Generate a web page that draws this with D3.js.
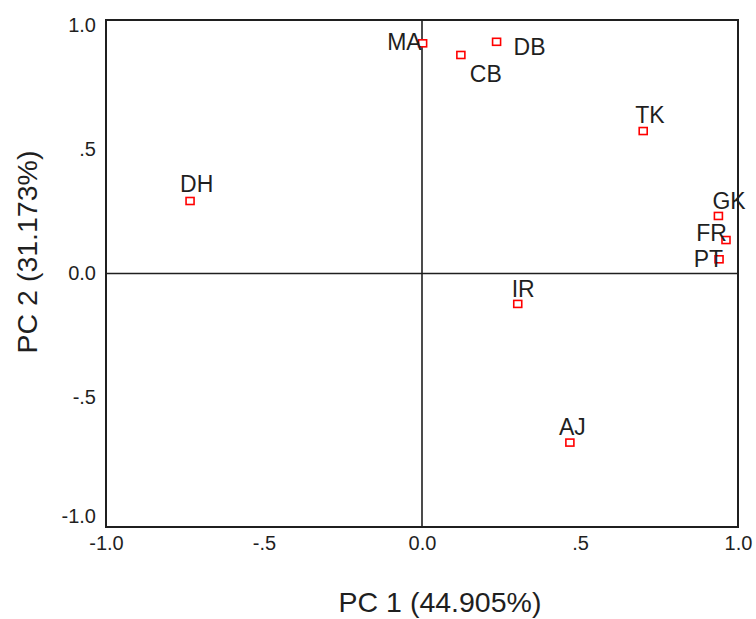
<!DOCTYPE html>
<html>
<head>
<meta charset="utf-8">
<script src="https://cdn.jsdelivr.net/npm/d3@7"></script>
<style>
  html, body { margin: 0; padding: 0; background: #fff; }
  svg { display: block; font-family: "Liberation Sans", Arial, sans-serif; }
</style>
</head>
<body>
<svg id="chart"></svg>
<script>
// PCA score plot: PC 1 vs PC 2
const cases = ["DH", "MA", "CB", "DB", "TK", "GK", "FR", "PT", "IR", "AJ"];
const pc1 = [-0.734, 0.002, 0.123, 0.236, 0.700, 0.938, 0.962, 0.940, 0.303, 0.468];
const pc2 = [0.286, 0.908, 0.862, 0.914, 0.562, 0.227, 0.132, 0.056, -0.120, -0.667];

const tickValues = [-1, -0.5, 0, 0.5, 1];
const tickLabels = ["-1.0", "-.5", "0.0", ".5", "1.0"];

const xTitle = "PC 1 (44.905%)";
const yTitle = "PC 2 (31.173%)";

(() => {
  const width = 756, height = 619;
  const left = 106, right = 738, top = 20, bottom = 527;

  // where each case label sits relative to its marker
  const LABEL_POS = {
    DH: ["start", -10, -9], MA: ["end", -1, 7],  CB: ["start", 9, 27],
    DB: ["start", 17, 13],  TK: ["start", -8, -8], GK: ["start", -6, -7],
    FR: ["end", 1, 1],      PT: ["end", 4, 8],   IR: ["start", -6, -7],
    AJ: ["start", -11, -8]
  };

  const ink = "#1f1f1f";
  const FONT = "Liberation Sans, Arial, sans-serif";

  const svg = d3.select("#chart").attr("width", width).attr("height", height);

  const x = d3.scaleLinear().domain([-1, 1]).range([left, right]);
  const y = d3.scaleLinear().domain([-1, 1]).range([bottom, top]);

  const fmt = d => tickLabels[tickValues.indexOf(d)];

  // tick labels (no tick marks, frame drawn separately)
  svg.append("g")
    .attr("transform", `translate(0,${bottom})`)
    .call(d3.axisBottom(x).tickValues(tickValues).tickFormat(fmt).tickSize(0).tickPadding(9))
    .call(g => g.select(".domain").remove())
    .call(g => g.selectAll("text").attr("font-size", 20).attr("fill", ink).attr("font-family", FONT));

  // y labels sit a little toward the centre; bottom one kept inside the frame
  svg.append("g")
    .attr("transform", `translate(${left},0)`)
    .call(d3.axisLeft(y).tickValues(tickValues).tickFormat(fmt).tickSize(0).tickPadding(10))
    .call(g => g.select(".domain").remove())
    .call(g => g.selectAll(".tick")
      .attr("transform", d => `translate(0,${Math.min(y(d) + 6 * d, bottom - 10)})`))
    .call(g => g.selectAll("text").attr("font-size", 20).attr("fill", ink).attr("font-family", FONT));

  // reference lines through the origin
  svg.append("line")
    .attr("x1", x(0)).attr("x2", x(0)).attr("y1", top).attr("y2", bottom)
    .attr("stroke", ink).attr("stroke-width", 1.6);
  svg.append("line")
    .attr("x1", left).attr("x2", right).attr("y1", y(0)).attr("y2", y(0))
    .attr("stroke", ink).attr("stroke-width", 1.6);

  // frame
  svg.append("rect")
    .attr("x", left).attr("y", top)
    .attr("width", right - left).attr("height", bottom - top)
    .attr("fill", "none").attr("stroke", ink).attr("stroke-width", 2);

  // points
  const data = cases.map((c, i) => ({ name: c, px: pc1[i], py: pc2[i] }));

  svg.append("g").selectAll("rect")
    .data(data)
    .join("rect")
    .attr("x", d => x(d.px) - 4)
    .attr("y", d => y(d.py) - 3.5)
    .attr("width", 8).attr("height", 7)
    .attr("fill", "#fff")
    .attr("stroke", "#ff0000")
    .attr("stroke-width", 1.6);

  svg.append("g").selectAll("text")
    .data(data)
    .join("text")
    .attr("x", d => x(d.px) + LABEL_POS[d.name][1])
    .attr("y", d => y(d.py) + LABEL_POS[d.name][2])
    .attr("text-anchor", d => LABEL_POS[d.name][0])
    .attr("font-size", 23)
    .attr("fill", ink)
    .text(d => d.name);

  // axis titles
  svg.append("text")
    .attr("x", 440).attr("y", 612)
    .attr("text-anchor", "middle")
    .attr("font-size", 28.5)
    .attr("fill", ink)
    .text(xTitle);

  svg.append("text")
    .attr("transform", `translate(37,252) rotate(-90)`)
    .attr("text-anchor", "middle")
    .attr("font-size", 28.5)
    .attr("fill", ink)
    .text(yTitle);
})();
</script>
</body>
</html>
